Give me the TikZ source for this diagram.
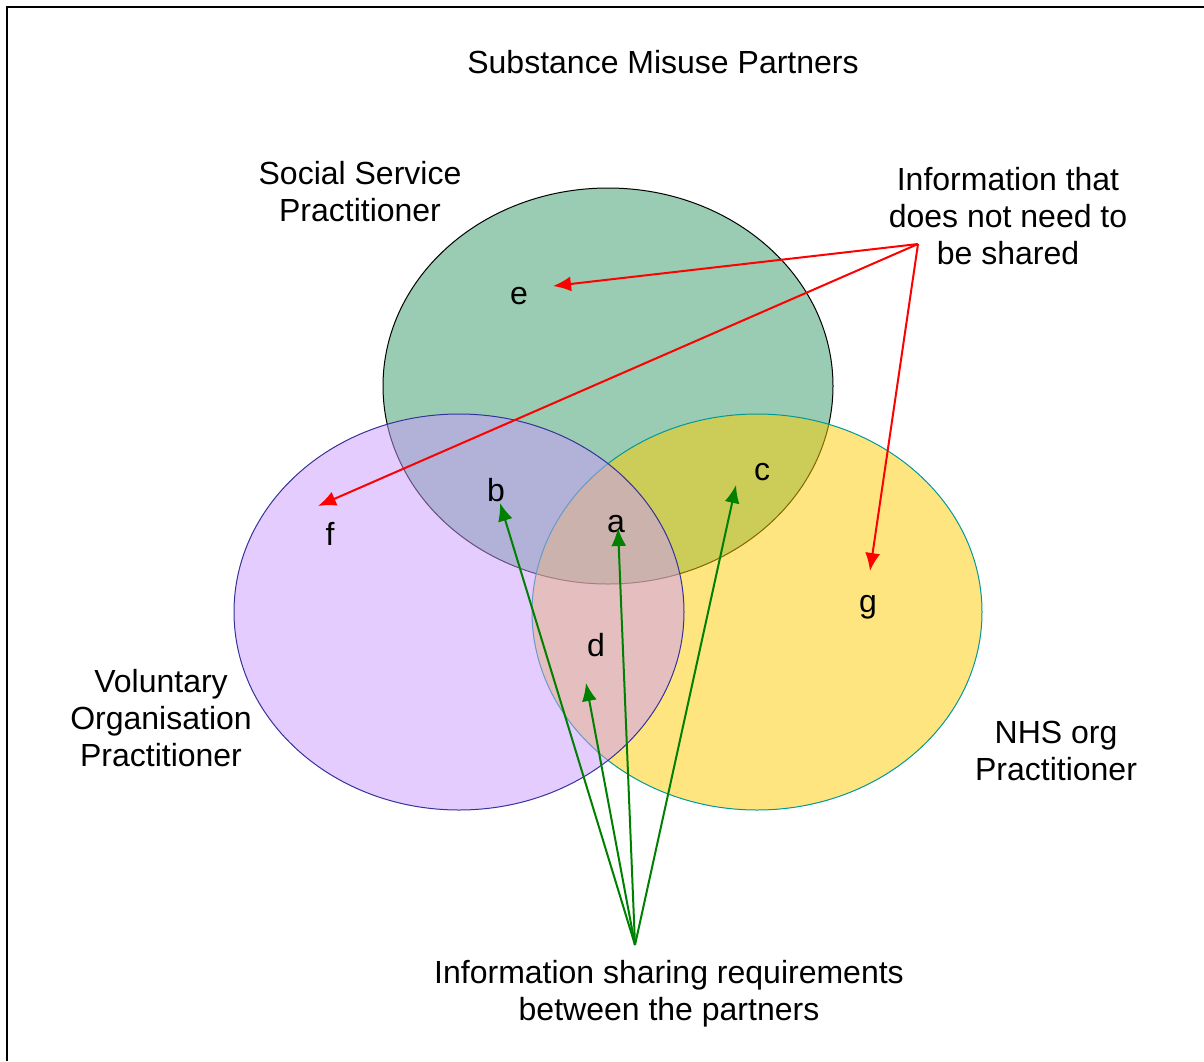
\documentclass[tikz,border=0pt]{standalone}
\usepackage{fontspec}
\setmainfont{Liberation Sans}
\usetikzlibrary{arrows.meta}

\definecolor{vgreen}{HTML}{339966}
\definecolor{vyellow}{HTML}{FFCC00}
\definecolor{vpurple}{HTML}{CC99FF}
\definecolor{vteal}{HTML}{009999}
\definecolor{vnavy}{HTML}{333399}
\definecolor{arrred}{HTML}{FF0000}
\definecolor{arrgreen}{HTML}{008000}

\tikzset{
    venn/.style={line width=0.5pt, fill opacity=0.5},
    lbl/.style={align=center, font=\fontsize{16}{18.5}\selectfont},
    letter/.style={inner sep=0pt, font=\fontsize{16}{18.5}\selectfont},
    redarrow/.style={draw=arrred, line width=1pt, -{Latex[length=9pt,width=7.5pt]}},
    greenarrow/.style={draw=arrgreen, line width=1pt, -{Latex[length=9pt,width=7.5pt]}}
}

\begin{document}
\begin{tikzpicture}[x=0.5pt, y=-0.5pt]
    \useasboundingbox (0,0) rectangle (1204,1061);
    \draw[line width=1pt] (7,1061) -- (7,7) -- (1204,7);

    % the three partners
    \draw[venn, fill=vgreen, draw=black] (608,386) ellipse (225 and 198);
    \draw[venn, fill=vyellow, draw=vteal] (757,612) ellipse (225 and 198);
    \draw[venn, fill=vpurple, draw=vnavy] (459,612) ellipse (225 and 198);

    \node[lbl] (title) at (663,62) {Substance Misuse Partners};
    \node[lbl] (social) at (360,192) {Social Service\\Practitioner};
    \node[lbl] (volunt) at (161,718) {Voluntary\\Organisation\\Practitioner};
    \node[lbl] (nhs) at (1056,751) {NHS org\\Practitioner};
    \node[lbl] (notneed) at (1008,216) {Information that\\does not need to\\be shared};
    \node[lbl] (sharing) at (669,994) {Information sharing requirements\\between the partners};

    \node[letter] (e) at (519,296) {e};
    \node[letter] (f) at (330,534) {f};
    \node[letter] (g) at (868,607) {g};
    \node[letter] (b) at (496,490) {b};
    \node[letter] (a) at (616,524) {a};
    \node[letter] (c) at (762,472) {c};
    \node[letter] (d) at (596,645) {d};

    \coordinate (notsrc) at (918,244);
    \coordinate (sharesrc) at (635,945);

    % not shared
    \draw[redarrow] (notsrc) -- ([shift={(34,-10)}]e.center);
    \draw[redarrow] (notsrc) -- ([shift={(-12,-28)}]f.center);
    \draw[redarrow] (notsrc) -- ([shift={(2,-36)}]g.center);

    % shared
    \draw[greenarrow] (sharesrc) -- ([shift={(4,13)}]b.center);
    \draw[greenarrow] (sharesrc) -- ([shift={(2,4)}]a.center);
    \draw[greenarrow] (sharesrc) -- ([shift={(-26,13)}]c.center);
    \draw[greenarrow] (sharesrc) -- ([shift={(-10,38)}]d.center);
\end{tikzpicture}
\end{document}
